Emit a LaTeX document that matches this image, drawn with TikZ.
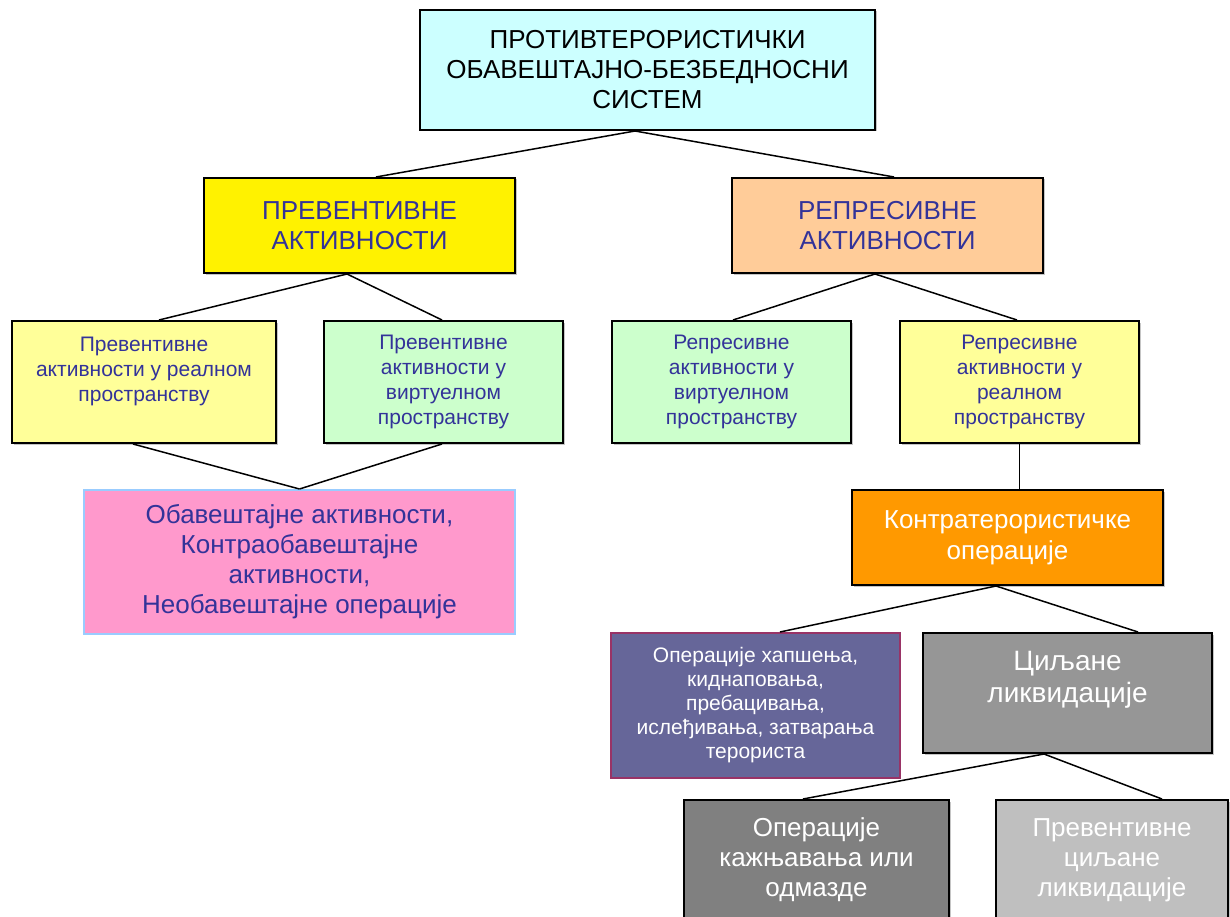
\documentclass[tikz,border=0pt]{standalone}
\usepackage{fontspec}
\setmainfont{Liberation Sans}
\usetikzlibrary{shadows}

\definecolor{txtblue}{HTML}{333399}
\definecolor{sysfill}{HTML}{CCFFFF}
\definecolor{palered}{HTML}{FFCC99}
\definecolor{paleyellow}{HTML}{FFFF99}
\definecolor{palegreen}{HTML}{CCFFCC}
\definecolor{pinkfill}{HTML}{FF99CC}
\definecolor{pinkdraw}{HTML}{99CCFF}
\definecolor{orangefill}{HTML}{FF9900}
\definecolor{purplefill}{HTML}{666699}
\definecolor{purpledraw}{HTML}{993366}

\begin{document}
\begin{tikzpicture}[x=1pt,y=-1pt,
        box/.style={rectangle, draw=black, line width=2pt, align=center, inner sep=0pt,
            drop shadow={shadow xshift=1.5pt, shadow yshift=-1.5pt, fill=black!45}},
        flatbox/.style={rectangle, line width=2pt, align=center, inner sep=0pt},
        head/.style={font=\fontsize{26}{30}\selectfont, text=txtblue},
        small/.style={font=\fontsize{21}{25}\selectfont, text=txtblue},
        white/.style={text=white},
        conn/.style={line width=1.5pt}
        ]
        \clip (0,0) rectangle (1230,917);
        % level 1
        \node (sys) [box, fill=sysfill, minimum width=455pt, minimum height=120pt,
            font=\fontsize{26}{30}\selectfont] at (647.5,70)
            {ПРОТИВТЕРОРИСТИЧКИ\\ОБАВЕШТАЈНО-БЕЗБЕДНОСНИ\\СИСТЕМ};
        % level 2
        \node (prev) [box, head, fill=yellow, minimum width=311pt, minimum height=95pt] at (359.5,225.5)
            {ПРЕВЕНТИВНЕ\\АКТИВНОСТИ};
        \node (repr) [box, head, fill=palered, minimum width=311pt, minimum height=95pt] at (887.5,225.5)
            {РЕПРЕСИВНЕ\\АКТИВНОСТИ};
        % level 3
        \node (prevreal) [box, small, fill=paleyellow, minimum width=264pt, minimum height=122pt] at (144,382)
            {Превентивне\\активности у реалном\\пространству\\~};
        \node (prevvirt) [box, small, fill=palegreen, minimum width=239pt, minimum height=122pt] at (443.5,382)
            {Превентивне\\активности у\\виртуелном\\пространству};
        \node (reprvirt) [box, small, fill=palegreen, minimum width=239pt, minimum height=122pt] at (731.5,382)
            {Репресивне\\активности у\\виртуелном\\пространству};
        \node (reprreal) [box, small, fill=paleyellow, minimum width=239pt, minimum height=122pt] at (1019.5,382)
            {Репресивне\\активности у\\реалном\\пространству};
        % level 4
        \node (intel) [flatbox, head, draw=pinkdraw, fill=pinkfill, minimum width=431pt, minimum height=144pt] at (299.5,562)
            {Обавештајне активности,\\Контраобавештајне\\активности,\\Необавештајне операције};
        \node (ctops) [box, head, white, fill=orangefill, minimum width=311pt, minimum height=95pt,
            font=\fontsize{26}{31}\selectfont] at (1007.5,537.5)
            {Контратерористичке\\операције};
        % level 5
        \node (arrest) [flatbox, white, draw=purpledraw, fill=purplefill, minimum width=289pt, minimum height=145pt,
            font=\fontsize{21}{24}\selectfont] at (755.5,705.5)
            {Операције хапшења,\\киднаповања,\\пребацивања,\\ислеђивања, затварања\\терориста};
        \node (targliq) [box, white, fill=black!41, minimum width=289pt, minimum height=120pt,
            font=\fontsize{28}{32}\selectfont] at (1067.5,693)
            {Циљане\\ликвидације\\~};
        % level 6
        \node (punish) [box, head, white, fill=black!50, minimum width=265pt, minimum height=120pt] at (816.5,860)
            {Операције\\кажњавања или\\одмазде};
        \node (prevliq) [box, head, white, fill=black!25, minimum width=232pt, minimum height=120pt] at (1112,860)
            {Превентивне\\циљане\\ликвидације};
        % connectors
        \draw[conn] ([xshift=-12.5pt]sys.south) -- ([xshift=16.5pt]prev.north);
        \draw[conn] ([xshift=-12.5pt]sys.south) -- ([xshift=6.5pt]repr.north);
        \draw[conn] ([xshift=-12.5pt]prev.south) -- ([xshift=15pt]prevreal.north);
        \draw[conn] ([xshift=-12.5pt]prev.south) -- ([xshift=-1.5pt]prevvirt.north);
        \draw[conn] ([xshift=-12.5pt]repr.south) -- ([xshift=1.5pt]reprvirt.north);
        \draw[conn] ([xshift=-12.5pt]repr.south) -- ([xshift=-2.5pt]reprreal.north);
        \draw[conn] ([xshift=-11pt]prevreal.south) -- (intel.north);
        \draw[conn] ([xshift=-1.5pt]prevvirt.south) -- (intel.north);
        \draw[conn] (reprreal.south) -- (reprreal.south |- ctops.north);
        \draw[conn] ([xshift=-11.5pt]ctops.south) -- ([xshift=24.5pt]arrest.north);
        \draw[conn] ([xshift=-11.5pt]ctops.south) -- ([xshift=70.5pt]targliq.north);
        \draw[conn] ([xshift=-23.5pt]targliq.south) -- ([xshift=-13.5pt]punish.north);
        \draw[conn] ([xshift=-23.5pt]targliq.south) -- ([xshift=50pt]prevliq.north);
\end{tikzpicture}
\end{document}
